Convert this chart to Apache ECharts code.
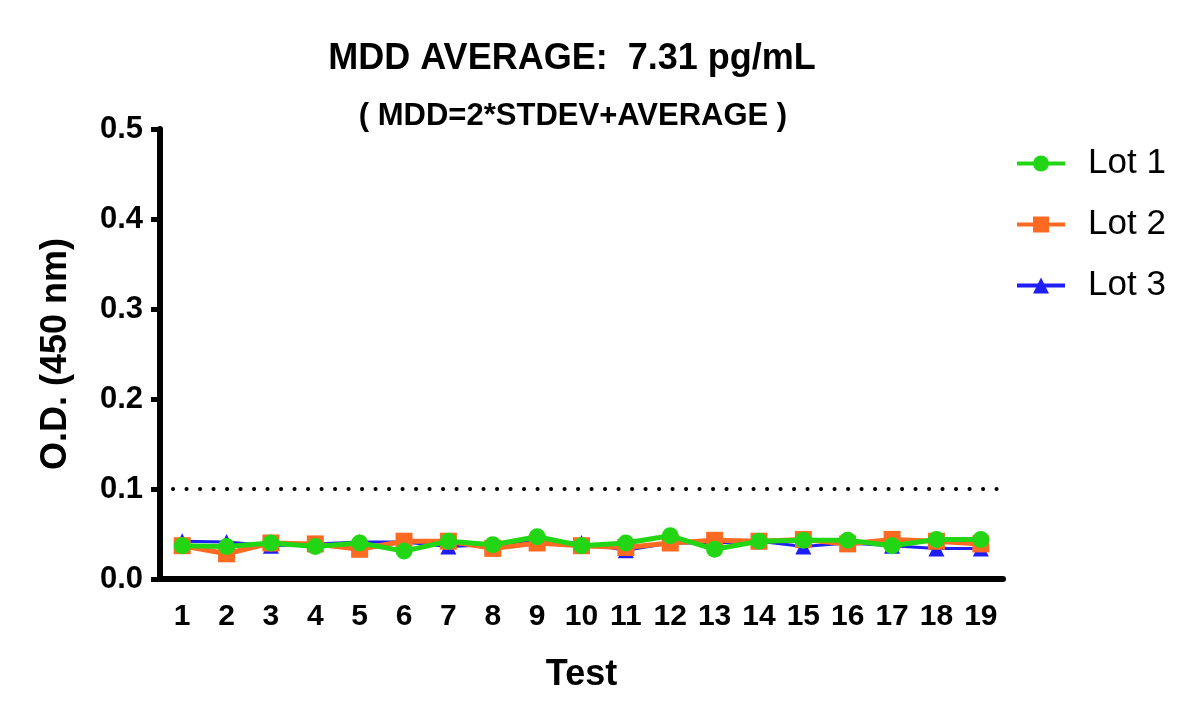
<!DOCTYPE html>
<html>
<head>
<meta charset="utf-8">
<script src="https://cdn.jsdelivr.net/npm/echarts@6/dist/echarts.min.js"></script>
<style>
  html, body { margin: 0; padding: 0; background: #fff; }
  #chart { width: 1200px; height: 727px; }
</style>
</head>
<body>
<div id="chart"></div>
<script>
// data
var tests = ['1','2','3','4','5','6','7','8','9','10','11','12','13','14','15','16','17','18','19'];
var lot1 = [0.037, 0.036, 0.040, 0.036, 0.040, 0.031, 0.042, 0.038, 0.047, 0.037, 0.040, 0.048, 0.033, 0.042, 0.043, 0.043, 0.037, 0.044, 0.044];
var lot2 = [0.037, 0.028, 0.040, 0.039, 0.033, 0.042, 0.042, 0.034, 0.040, 0.037, 0.035, 0.040, 0.043, 0.042, 0.044, 0.039, 0.044, 0.042, 0.039];
var lot3 = [0.042, 0.041, 0.037, 0.039, 0.041, 0.041, 0.036, 0.038, 0.042, 0.040, 0.032, 0.040, 0.040, 0.042, 0.036, 0.040, 0.037, 0.034, 0.034];
var mddLine = 0.1;

var FONT = '"Liberation Sans", Arial, sans-serif';

var myChart = echarts.init(document.getElementById('chart'));

var option = {
    animation: false,
    backgroundColor: '#fff',
    title: [
        {
            text: 'MDD AVERAGE:  7.31 pg/mL',
            left: 567, top: 36, textAlign: 'center',
            textStyle: { fontFamily: FONT, fontSize: 36, fontWeight: 'bold', color: '#000' }
        },
        {
            text: '( MDD=2*STDEV+AVERAGE )',
            left: 568, top: 96, textAlign: 'center',
            textStyle: { fontFamily: FONT, fontSize: 31, fontWeight: 'bold', color: '#000' }
        }
    ],
    legend: {
        orient: 'vertical',
        left: 1010,
        top: 141,
        itemWidth: 48,
        itemHeight: 20,
        itemGap: 26,
        data: ['Lot 1', 'Lot 2', 'Lot 3'],
        lineStyle: { width: 4 },
        textStyle: { fontFamily: FONT, fontSize: 35, color: '#000', padding: [0, 0, 0, 18] }
    },
    grid: {
        left: 160,
        right: 197,
        top: 129,
        bottom: 148
    },
    xAxis: {
        type: 'category',
        data: tests,
        boundaryGap: true,
        name: 'Test',
        nameLocation: 'middle',
        nameGap: 78,
        nameTextStyle: { fontFamily: FONT, fontSize: 36, fontWeight: 'bold', color: '#000' },
        axisLine: { lineStyle: { color: '#000', width: 6 } },
        axisTick: { alignWithLabel: true, length: 10, lineStyle: { color: '#000', width: 5 } },
        axisLabel: { fontFamily: FONT, fontSize: 30, fontWeight: 'bold', color: '#000', margin: 23, interval: 0 },
        splitLine: { show: false }
    },
    yAxis: {
        type: 'value',
        min: 0,
        max: 0.5,
        interval: 0.1,
        name: 'O.D. (450 nm)',
        nameLocation: 'middle',
        nameGap: 86,
        nameTextStyle: { fontFamily: FONT, fontSize: 36, fontWeight: 'bold', color: '#000' },
        axisLine: { show: true, lineStyle: { color: '#000', width: 6 } },
        axisTick: { show: true, length: 9, lineStyle: { color: '#000', width: 5 } },
        axisLabel: {
            fontFamily: FONT, fontSize: 31, fontWeight: 'bold', color: '#000', margin: 17,
            formatter: function (v) { return v.toFixed(1); }
        },
        splitLine: { show: false }
    },
    series: [
        {
            name: 'Lot 1',
            type: 'line',
            data: lot1,
            z: 4,
            symbol: 'circle',
            symbolSize: 17,
            itemStyle: { color: '#22d615' },
            lineStyle: { color: '#22d615', width: 5 }
        },
        {
            name: 'Lot 2',
            type: 'line',
            data: lot2,
            z: 3,
            symbol: 'rect',
            symbolSize: 17,
            itemStyle: { color: '#ff6a22' },
            lineStyle: { color: '#ff6a22', width: 5 },
            markLine: {
                silent: true,
                symbol: 'none',
                label: { show: false },
                lineStyle: { color: '#000', width: 4, type: [0.1, 13.4], cap: 'round' },
                data: [[{ yAxis: mddLine, x: 173 }, { yAxis: mddLine, x: 1000 }]]
            }
        },
        {
            name: 'Lot 3',
            type: 'line',
            data: lot3,
            z: 2,
            symbol: 'triangle',
            symbolSize: 16,
            itemStyle: { color: '#1f1ff5' },
            lineStyle: { color: '#1f1ff5', width: 3 }
        }
    ]
};

myChart.setOption(option);

window.onresize = function () {
    myChart.resize();
};
</script>
</body>
</html>
